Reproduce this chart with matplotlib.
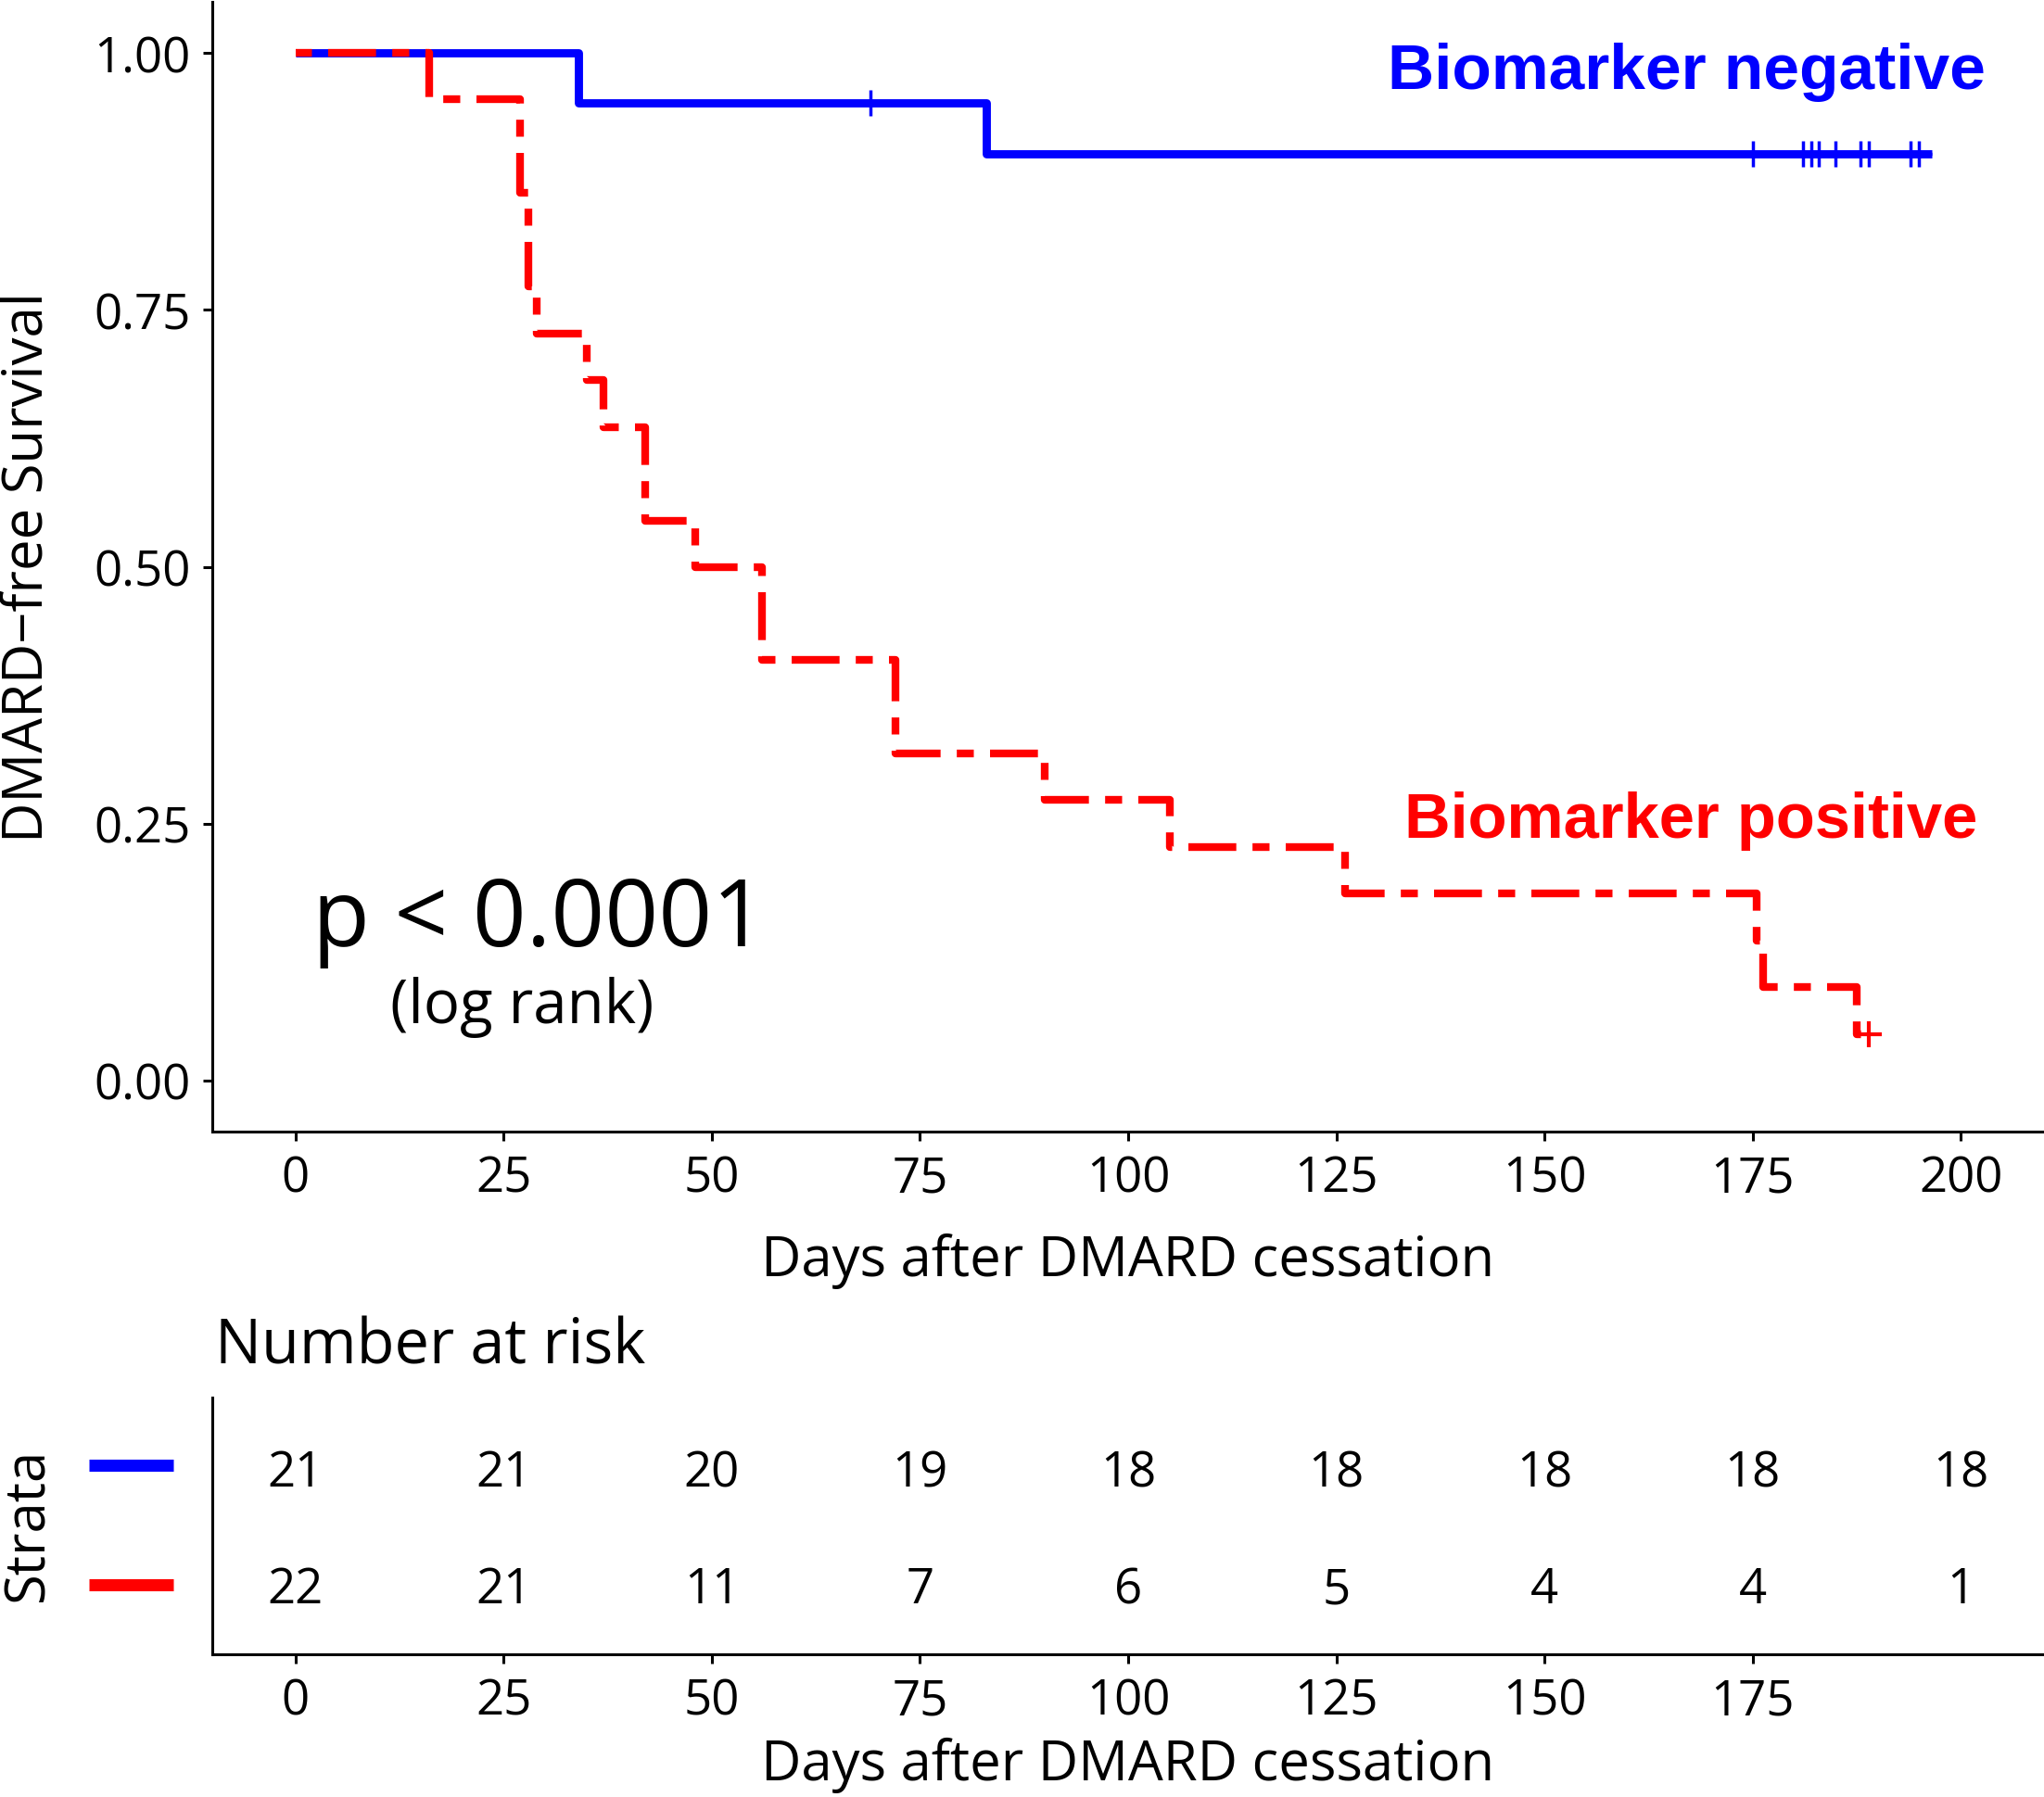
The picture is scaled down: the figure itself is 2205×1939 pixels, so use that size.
import numpy as np
import matplotlib
matplotlib.use('Agg')
import matplotlib.pyplot as plt
from matplotlib.transforms import blended_transform_factory

plt.rcParams['font.family'] = ['Open Sans', 'DejaVu Sans']

# Kaplan-Meier данные
neg_time = [0, 34, 83, 196.5]
neg_surv = [1.0, 0.952, 0.902, 0.902]
neg_cens = [69, 175, 181, 182, 183, 185, 188, 189, 194, 195]

pos_time = [0, 16, 27, 28, 29, 35, 37, 42, 48, 56, 72, 90, 105, 126, 175.5, 176.3, 187.5, 189]
pos_surv = [1.0, 0.955, 0.864, 0.773, 0.727, 0.682, 0.636, 0.545, 0.500, 0.409,
            0.318, 0.273, 0.227, 0.182, 0.136, 0.091, 0.045, 0.045]
pos_cens = [189]

# таблица числа под риском
risk_times = [0, 25, 50, 75, 100, 125, 150, 175, 200]
risk_neg = [21, 21, 20, 19, 18, 18, 18, 18, 18]
risk_pos = [22, 21, 11, 7, 6, 5, 4, 4, 1]

x_ticks = [0, 25, 50, 75, 100, 125, 150, 175, 200]
table_ticks = [0, 25, 50, 75, 100, 125, 150, 175]
y_ticks = [0.0, 0.25, 0.5, 0.75, 1.0]

BLUE = '#0000FF'
RED = '#FF0000'


def surv_at(times, surv, t):
    i = np.searchsorted(times, t, side='right') - 1
    return np.array(surv)[i]


fig = plt.figure(figsize=(22.05, 19.4), dpi=100)

# основной график
ax = fig.add_axes([229 / 2205, 1 - 1222 / 1940, 1 - 229 / 2205, (1222 - 3) / 1940])
ax.step(neg_time, neg_surv, where='post', color=BLUE, lw=6.4, solid_capstyle='butt')
ax.plot(neg_cens, surv_at(neg_time, neg_surv, neg_cens), '+', color=BLUE, ms=20, mew=2.5)
ax.step(pos_time, pos_surv, where='post', color=RED, lw=6.0,
        linestyle=(8.4, (6.2, 2.1, 2.2, 2.1)), dash_capstyle='butt')
ax.plot(pos_cens, surv_at(pos_time, pos_surv, pos_cens), '+', color=RED, ms=20, mew=3)

ax.set_xlim(-10, 210)
ax.set_ylim(-0.05, 1.05)
ax.set_xticks(x_ticks)
ax.set_yticks(y_ticks)
ax.set_yticklabels(['%.2f' % v for v in y_ticks])
for s in ['top', 'right']:
    ax.spines[s].set_visible(False)
for s in ['left', 'bottom']:
    ax.spines[s].set_linewidth(2.2)
ax.tick_params(labelsize=38, width=2.2, length=7, pad=10, colors='black')

ax.text(203, 0.982, 'Biomarker negative', color=BLUE, fontsize=50, fontweight='bold',
        family=['Liberation Sans'], ha='right', va='center')
ax.text(202, 0.253, 'Biomarker positive', color=RED, fontsize=49.5, fontweight='bold',
        family=['Liberation Sans'], ha='right', va='center')
ax.text(29.2, 0.155, 'p < 0.0001', fontsize=73, ha='center', va='center')
ax.text(27.2, 0.072, '(log rank)', fontsize=47, ha='center', va='center')

fig.text(30 / 2205, 1 - 612 / 1940, 'DMARD\u2212free Survival', rotation=90,
         fontsize=43, ha='center', va='center')
fig.text(1217 / 2205, 1 - 1361 / 1940, 'Days after DMARD cessation',
         fontsize=43, ha='center', va='center')

# таблица числа под риском
tab = fig.add_axes([229 / 2205, 1 - 1786 / 1940, 1 - 229 / 2205, (1786 - 1509) / 1940])
for t, n in zip(risk_times, risk_neg):
    tab.text(t, 1.955, str(n), fontsize=38, ha='center', va='center')
for t, n in zip(risk_times, risk_pos):
    tab.text(t, 0.955, str(n), fontsize=38, ha='center', va='center')
tab.set_xlim(-10, 210)
tab.set_ylim(0.405, 2.603)
tab.set_xticks(table_ticks)
tab.set_yticks([])
for s in ['top', 'right']:
    tab.spines[s].set_visible(False)
for s in ['left', 'bottom']:
    tab.spines[s].set_linewidth(2.2)
tab.tick_params(labelsize=38, width=2.2, length=7, pad=10, colors='black')

# ключи легенды слева от таблицы
trans = blended_transform_factory(tab.transAxes, tab.transData)
tab.plot([-0.0673, -0.0213], [2.02, 2.02], color=BLUE, lw=9.4, transform=trans,
         clip_on=False, solid_capstyle='butt')
tab.plot([-0.0673, -0.0213], [1.0, 1.0], color=RED, lw=9.4, transform=trans,
         clip_on=False, solid_capstyle='butt')

fig.text(30 / 2205, 1 - 1645 / 1940, 'Strata', rotation=90, fontsize=43,
         ha='center', va='center')
fig.text(232 / 2205, 1 - 1454 / 1940, 'Number at risk', fontsize=48,
         ha='left', va='center')
fig.text(1217 / 2205, 1 - 1905 / 1940, 'Days after DMARD cessation',
         fontsize=43, ha='center', va='center')

fig.savefig('out.png', dpi=100)
plt.close(fig)
